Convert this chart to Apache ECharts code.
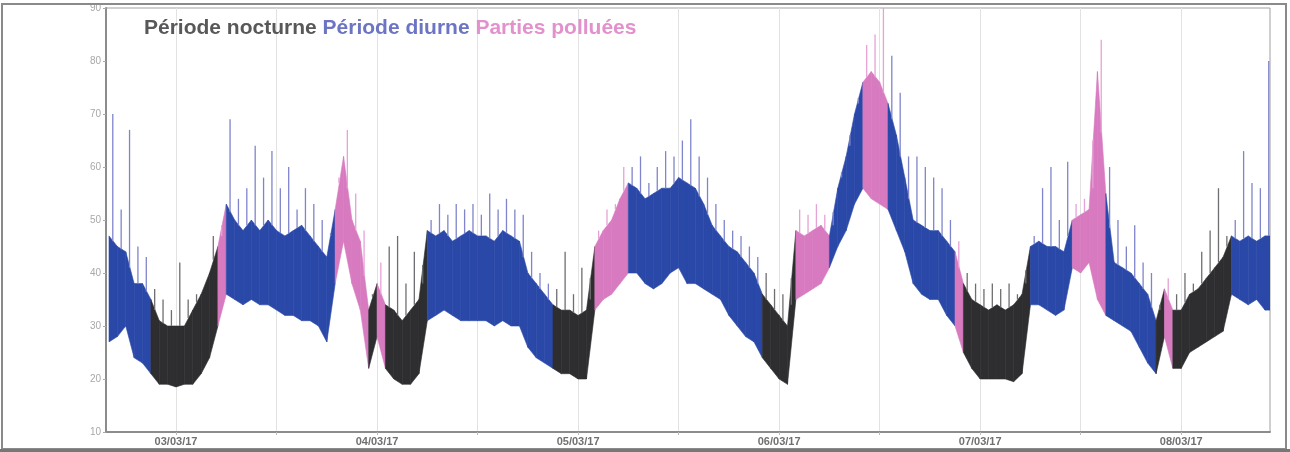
<!DOCTYPE html>
<html><head><meta charset="utf-8">
<script src="https://cdn.jsdelivr.net/npm/echarts@6/dist/echarts.min.js"></script>
<style>html,body{margin:0;padding:0;background:#fff}#c{width:1290px;height:452px}</style>
</head><body><div id="c"></div>
<script>
// Time in hours relative to 03/03/17 00:00; one sample per hour starting at H_START
const H_START = -8;
const DATE_LABELS = ['03/03/17', '04/03/17', '05/03/17', '06/03/17', '07/03/17', '08/03/17'];
const DATE_HOURS = [0, 24, 48, 72, 96, 120];
const GRID_HOURS = [0, 12, 24, 36, 48, 60, 72, 84, 96, 108, 120];
const Y_TICKS = [10, 20, 30, 40, 50, 60, 70, 80, 90];
const LEGEND = ['Période nocturne', 'Période diurne', 'Parties polluées'];

// lower edge of the dense band (dB)
const LOW = [27,28,30,24,23, 21,19,19,18.5,19,19,21,24, 30,
 36,35,34,35,34,34,33,32,32,31,31,30,27, 38,46,38,33, 22, 28, 22,20,19,19,21,
 31,32,33,32,31,31,31,31,30,31,30,30,26,24,23, 22,21,21,20,20, 33,35,36,38,
 40,40,38,37,38,40,41,38,38,37,36,35,32,30,28,27, 24,22,20,19, 35,36,37,38,
 41,45,48,53, 56,54,53, 52,48,44,38,36,35,35,32, 30, 25,22,20,20,20,20,19.5,21,
 34,34,33,32,33, 41,40,42,35, 32,31,30,29,26,23, 21, 28, 22,22,25,26,27,28,29, 36,35,34,35,33];
// upper edge of the dense band (dB)
const HIGH = [47,45,44,38,38, 35,31,30,30,30,33,36,40, 45,
 53,50,48,50,48,50,48,47,48,49,47,45,43, 52,62,50,46, 33, 38, 34,33,31,33,35,
 48,47,48,46,47,48,47,47,46,48,47,46,40,38,36, 34,33,33,32,33, 45,48,50,54,
 57,56,54,55,56,56,58,57,56,53,49,47,45,44,42,40, 36,34,32,30, 48,47,48,49,
 47,56,62,70, 76,78,76, 72,66,58,50,49,48,48,46, 44, 38,35,34,33,34,33,34,36,
 45,46,45,45,44, 50,51,52,78, 55,42,41,40,38,36, 31, 37, 33,33,36,37,39,41,43, 47,46,47,46,47];
// highest spike within each hour (dB)
const PEAK = [70,52,67,45,43, 37,35,33,42,35,36,38,47, 47,
 69,54,56,64,58,63,56,60,52,56,53,50,47, 58,67,55,48, 36, 42, 45,47,38,44,38,
 50,53,51,53,52,53,51,55,52,54,52,51,44,40,38, 37,44,36,41,35, 48,52,53,60,
 60,62,57,60,63,62,65,69,62,58,53,50,48,47,45,43, 40,37,36,34, 52,51,53,51,
 49,58,64,72, 83,85,90, 81,74,62,62,60,58,56,50, 46, 40,38,37,38,37,38,36,38,
 47,56,60,50,61, 53,54,56,84, 60,50,45,49,42,40, 33, 39, 36,40,38,44,48,56,47, 50,63,57,56,80];
// period of each hour: n = nocturne, d = diurne, p = polluée
const PERIOD = ('ddddd' + 'nnnnnnnn' + 'p' + 'ddddddddddddd' + 'pppp' + 'n' + 'p' + 'nnnnn' +
 'ddddddddddddddd' + 'nnnnn' + 'pppp' + 'dddddddddddddddd' + 'nnnn' + 'pppp' + 'dddd' + 'ppp' +
 'dddddddd' + 'p' + 'nnnnnnnn' + 'ddddd' + 'pppp' + 'dddddd' + 'n' + 'p' + 'nnnnnnn' + 'ddddd').split('');

const X_MIN = -8.36, X_MAX = 130.6;
const BAND_COL = { n: '#2e2e30', d: '#2a48a8', p: '#d77ac0' };
const SPIKE_COL = { n: '#6e6e72', d: '#7f84cc', p: '#e6a2d6' };
const CLS = ['n', 'd', 'p'];

const data = LOW.map((lo, i) => {
  const j = Math.min(i + 1, LOW.length - 1);
  return [H_START + i, lo, HIGH[i], LOW[j], HIGH[j], PEAK[i], CLS.indexOf(PERIOD[i])];
});

const chart = echarts.init(document.getElementById('c'), null, { renderer: 'canvas' });
chart.setOption({
  animation: false,
  backgroundColor: '#fff',
  title: {
    left: 139, top: 13,
    text: '{a|' + LEGEND[0] + '} {b|' + LEGEND[1] + '} {c|' + LEGEND[2] + '}',
    textStyle: {
      fontFamily: 'Liberation Sans', fontWeight: 'bold', fontSize: 21,
      rich: {
        a: { color: '#58585a', fontWeight: 'bold', fontSize: 21, fontFamily: 'Liberation Sans' },
        b: { color: '#6c74c4', fontWeight: 'bold', fontSize: 21, fontFamily: 'Liberation Sans' },
        c: { color: '#e391cc', fontWeight: 'bold', fontSize: 21, fontFamily: 'Liberation Sans' }
      }
    }
  },
  graphic: [
    { type: 'rect', shape: { x: 2, y: 4, width: 1284, height: 445 }, style: { fill: 'none', stroke: '#8a8a8a', lineWidth: 2 }, z: 100 },
    { type: 'line', shape: { x1: 0, y1: 450.5, x2: 1290, y2: 450.5 }, style: { stroke: '#777', lineWidth: 3 }, z: 100 }
  ],
  grid: { left: 106, right: 20, top: 8, bottom: 20, show: true, borderColor: '#a0a0a0', borderWidth: 1, backgroundColor: '#fff' },
  xAxis: {
    type: 'value', min: X_MIN, max: X_MAX,
    axisLine: { show: true, onZero: false, lineStyle: { color: '#8c8c8c', width: 2 } },
    axisTick: { show: true, customValues: GRID_HOURS, length: 3, lineStyle: { color: '#bbb' } },
    axisLabel: {
      customValues: DATE_HOURS, color: '#707070', fontSize: 11, fontWeight: 'bold', margin: 4,
      fontFamily: 'Liberation Sans',
      formatter: v => DATE_LABELS[DATE_HOURS.indexOf(Math.round(v))] || ''
    },
    splitLine: { show: true, lineStyle: { color: '#e2e2e2', width: 1 } }
  },
  yAxis: {
    type: 'value', min: 10, max: 90, interval: 10,
    axisLine: { show: true, onZero: false, lineStyle: { color: '#8c8c8c', width: 2 } },
    axisTick: { show: true, length: 3, lineStyle: { color: '#aaa' } },
    axisLabel: { color: '#a8a8a8', fontSize: 10, margin: 5, fontFamily: 'Liberation Sans',
      formatter: v => Y_TICKS.includes(v) ? String(v) : '' },
    splitLine: { show: false }
  },
  series: [{
    type: 'custom',
    clip: true,
    data: data,
    encode: { x: 0, y: [1, 2] },
    renderItem: function (params, api) {
      const h0 = api.value(0);
      const h1 = Math.min(h0 + 1, X_MAX);
      const c = CLS[api.value(6)];
      const pk = api.value(5);
      const p1 = api.coord([h0, api.value(2)]);
      const p2 = api.coord([h1, api.value(4)]);
      const p3 = api.coord([h1, api.value(3)]);
      const p4 = api.coord([h0, api.value(1)]);
      const hm = (api.value(2) + api.value(4)) / 2;
      const s0 = api.coord([h0 + 0.45, hm]);
      const s1 = api.coord([h0 + 0.45, pk]);
      return {
        type: 'group',
        children: [
          { type: 'polygon', shape: { points: [p1, p2, p3, p4] }, style: { fill: BAND_COL[c], stroke: BAND_COL[c], lineWidth: 0.6 } },
          { type: 'line', shape: { x1: s0[0], y1: s0[1], x2: s1[0], y2: s1[1] }, style: { stroke: SPIKE_COL[c], lineWidth: 1.3 } }
        ]
      };
    }
  }]
});
</script>
</body></html>
